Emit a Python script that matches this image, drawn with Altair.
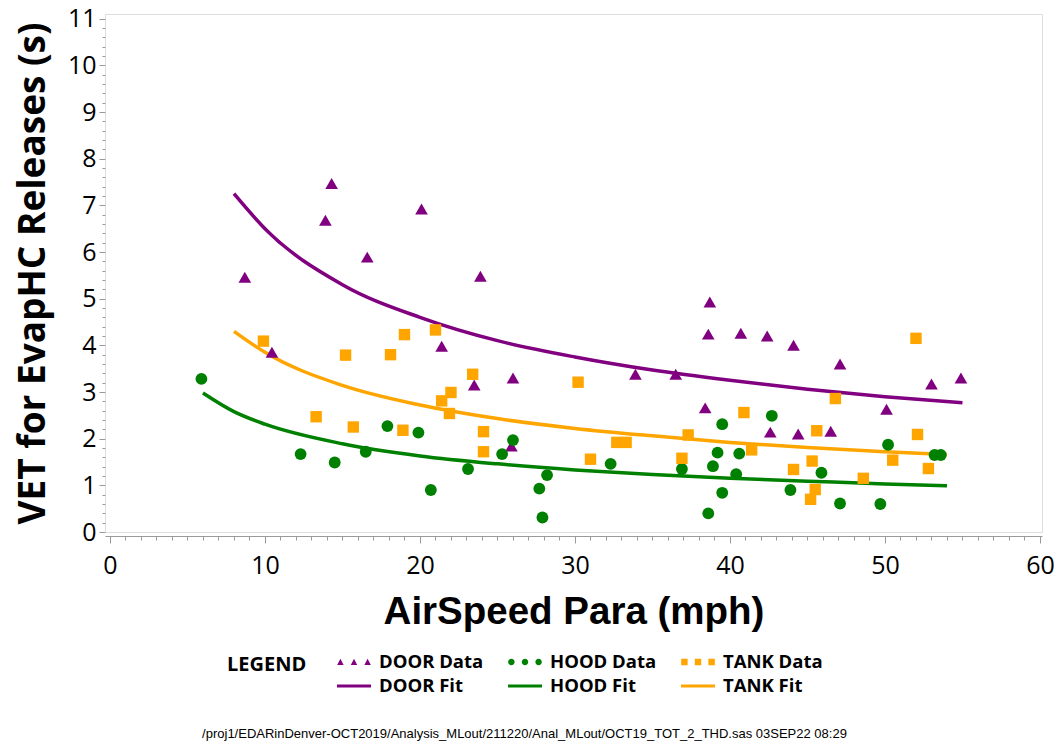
import altair as alt
import pandas as pd

# ---- measured data -------------------------------------------------------
door_x = [8.7, 10.45, 13.9, 14.3, 16.6, 20.1, 23.9, 21.4, 23.5, 26.0, 25.9, 33.9, 36.5,
          38.7, 38.6, 40.7, 42.4, 44.1, 38.4, 42.6, 44.4, 46.5, 47.1, 50.1, 53.0, 54.9]
door_y = [5.46, 3.85, 6.68, 7.47, 5.89, 6.92, 5.48, 3.98, 3.15, 3.30, 1.84, 3.38, 3.38,
          4.93, 4.24, 4.26, 4.20, 4.00, 2.66, 2.14, 2.10, 2.16, 3.60, 2.63, 3.17, 3.30]

hood_x = [5.9, 12.3, 14.5, 16.5, 17.9, 19.9, 20.7, 23.1, 25.3, 26.0, 27.7, 28.2, 27.9,
          32.3, 36.9, 38.6, 38.9, 39.2, 39.5, 39.5, 40.6, 40.4, 42.7, 43.9, 45.9, 47.1,
          49.7, 50.2, 53.2, 53.6]
hood_y = [3.28, 1.67, 1.49, 1.72, 2.27, 2.13, 0.90, 1.35, 1.67, 1.97, 0.93, 1.22, 0.31,
          1.46, 1.35, 0.40, 1.41, 1.70, 2.31, 0.84, 1.68, 1.24, 2.49, 0.90, 1.27, 0.61,
          0.60, 1.87, 1.65, 1.65]

tank_x = [9.9, 15.2, 13.3, 15.7, 19.0, 21.0, 18.1, 23.4, 22.0, 21.4, 21.9, 18.9, 24.1,
          24.1, 30.2, 31.0, 32.7, 33.3, 37.3, 36.9, 40.9, 41.4, 44.1, 45.6, 45.3, 45.5,
          45.2, 46.8, 48.6, 50.5, 52.0, 52.1, 52.8]
tank_y = [4.09, 3.79, 2.47, 2.25, 4.23, 4.33, 3.80, 3.38, 2.99, 2.81, 2.54, 2.18, 2.15,
          1.72, 3.21, 1.56, 1.92, 1.92, 2.08, 1.58, 2.56, 1.76, 1.34, 2.17, 1.52, 0.91,
          0.70, 2.86, 1.15, 1.54, 4.15, 2.09, 1.36]

# fitted curves, sampled along the speed range
door_fit_x = [8, 10, 15, 20, 25, 30, 35, 40, 45, 50, 55]
door_fit_y = [7.25, 6.50, 5.30, 4.60, 4.10, 3.75, 3.47, 3.25, 3.06, 2.90, 2.77]
hood_fit_x = [6, 8, 10, 15, 20, 25, 30, 35, 40, 45, 50, 54]
hood_fit_y = [2.98, 2.58, 2.31, 1.89, 1.63, 1.46, 1.33, 1.23, 1.15, 1.09, 1.03, 0.99]
tank_fit_x = [8, 10, 15, 20, 25, 30, 35, 40, 45, 50, 54]
tank_fit_y = [4.30, 3.85, 3.14, 2.72, 2.43, 2.22, 2.06, 1.92, 1.81, 1.72, 1.66]

series = ["DOOR Data", "HOOD Data", "TANK Data", "DOOR Fit", "HOOD Fit", "TANK Fit"]

x_ticks = [0, 10, 20, 30, 40, 50, 60]
y_ticks = list(range(0, 12))
x_minor = [v for v in range(0, 61) if v % 10]
y_minor = [round(i * 0.2, 1) for i in range(0, 56) if i % 5]

footer = ("/proj1/EDARinDenver-OCT2019/Analysis_MLout/211220/Anal_MLout/"
          "OCT19_TOT_2_THD.sas  03SEP22 08:29")

# ---- styling ---------------------------------------------------------------
PURPLE = "#800080"
GREEN = "#008000"
ORANGE = "#FFA500"
GRAY = "#9a9a9a"

LABEL_FONT = "Open Sans"
ARIAL_FONT = "Liberation Sans"

# three small markers side by side for the data entries, a bar for the fits
def tri(cx):
    return f"M{cx-0.19},0.17L{cx},-0.19L{cx+0.19},0.17Z"

def dot(cx):
    r = 0.19
    return f"M{cx-r},0A{r},{r} 0 1,0 {cx+r},0A{r},{r} 0 1,0 {cx-r},0Z"

def sq(cx):
    h = 0.19
    return f"M{cx-h},{-h}H{cx+h}V{h}H{cx-h}Z"

centers = [-0.8, 0.0, 0.8]
tri_path = "".join(tri(c) for c in centers)
dot_path = "".join(dot(c) for c in centers)
sq_path = "".join(sq(c) for c in centers)
bar_path = "M-1,-0.09H1V0.09H-1Z"

x_scale = alt.Scale(domain=[-0.32, 60.13], nice=False, zero=False)
y_scale = alt.Scale(domain=[0, 11.1], nice=False, zero=False)

def frame(xs, ys):
    return pd.DataFrame({"speed": xs, "vet": ys})

door_df = frame(door_x, door_y)
hood_df = frame(hood_x, hood_y)
tank_df = frame(tank_x, tank_y)

x_major = alt.X(
    "speed:Q", scale=x_scale,
    axis=alt.Axis(
        values=x_ticks, orient="bottom", offset=4, grid=False,
        domain=True, domainColor=GRAY, tickColor=GRAY, tickSize=7,
        labelFont=LABEL_FONT, labelFontSize=25, labelColor="black", labelPadding=10,
        title="AirSpeed Para (mph)", titleFont=ARIAL_FONT,
        titleFontSize=38.5, titleFontWeight="bold", titleColor="black", titlePadding=15,
    ),
)
y_major = alt.Y(
    "vet:Q", scale=y_scale,
    axis=alt.Axis(
        values=y_ticks, orient="left", grid=False, domain=False,
        tickColor=GRAY, tickSize=6,
        labelFont=LABEL_FONT, labelFontSize=25, labelColor="black", labelPadding=3,
        title="VET for EvapHC Releases (s)", titleFont=LABEL_FONT,
        titleFontSize=37, titleFontWeight="bold", titleColor="black", titlePadding=15,
    ),
)

def xq():
    return alt.X("speed:Q", scale=x_scale, axis=None)

def yq():
    return alt.Y("vet:Q", scale=y_scale, axis=None)

# ---- data layers ----------------------------------------------------------
door_pts = alt.Chart(door_df).mark_point(
    shape="triangle-up", filled=True, size=160, color=PURPLE, opacity=1
).encode(x=x_major, y=y_major)

hood_pts = alt.Chart(hood_df).mark_point(
    shape="circle", filled=True, size=140, color=GREEN, opacity=1
).encode(x=xq(), y=yq())

tank_pts = alt.Chart(tank_df).mark_point(
    shape="square", filled=True, size=130, color=ORANGE, opacity=1
).encode(x=xq(), y=yq())

def fit_layer(xs, ys, color):
    return alt.Chart(frame(xs, ys)).mark_line(
        color=color, strokeWidth=3.5, interpolate="monotone"
    ).encode(x=xq(), y=yq())

door_line = fit_layer(door_fit_x, door_fit_y, PURPLE)
hood_line = fit_layer(hood_fit_x, hood_fit_y, GREEN)
tank_line = fit_layer(tank_fit_x, tank_fit_y, ORANGE)

# minor tick marks on both axes
minor_axes = alt.Chart(frame([0], [0])).mark_point(opacity=0).transform_filter(
    "false"
).encode(
    x=alt.X("speed:Q", scale=x_scale, axis=alt.Axis(
        values=x_minor, orient="bottom", offset=4, labels=False, domain=False,
        grid=False, tickColor=GRAY, tickSize=4, title=None)),
    y=alt.Y("vet:Q", scale=y_scale, axis=alt.Axis(
        values=y_minor, orient="left", labels=False, domain=False,
        grid=False, tickColor=GRAY, tickSize=3, title=None)),
)

# legend built from the series names
legend_layer = alt.Chart(pd.DataFrame({"series": series})).mark_point(
    filled=True, size=1156, opacity=1
).transform_filter("false").encode(
    color=alt.Color(
        "series:N",
        scale=alt.Scale(domain=series,
                        range=[PURPLE, GREEN, ORANGE, PURPLE, GREEN, ORANGE]),
        legend=alt.Legend(
            title="LEGEND", orient="none", legendX=122, legendY=636,
            direction="horizontal", columns=3, titleOrient="left",
            titleAnchor="start", titleBaseline="line-top", titleLineHeight=31,
            titleFont=LABEL_FONT, titleFontSize=20, titleFontWeight="bold",
            titleColor="black", titlePadding=30,
            labelFont=LABEL_FONT, labelFontSize=18.5, labelFontWeight="bold",
            labelColor="black", labelOffset=8, labelLimit=300,
            columnPadding=24, rowPadding=0, symbolSize=1156, clipHeight=24,
            symbolStrokeWidth=0, padding=0, symbolOpacity=1,
        ),
    ),
    shape=alt.Shape(
        "series:N",
        scale=alt.Scale(domain=series,
                        range=[tri_path, dot_path, sq_path, bar_path, bar_path, bar_path]),
    ),
)

chart = alt.layer(
    legend_layer, minor_axes, door_line, hood_line, tank_line,
    door_pts, hood_pts, tank_pts,
).resolve_axis(x="independent", y="independent").properties(
    width=937, height=518,
    autosize=alt.AutoSizeParams(type="none"),
    padding={"left": 105, "top": 14, "right": 17, "bottom": 212},
    title=alt.TitleParams(
        text=footer, orient="bottom", anchor="middle", frame="group",
        font=ARIAL_FONT, fontSize=13, fontWeight="normal",
        color="black", offset=30, baseline="top", dx=-49,
    ),
).configure_view(stroke=GRAY, strokeWidth=1).configure(background="white")

chart.save("out.html", embed_options={"renderer": "svg", "actions": False})
